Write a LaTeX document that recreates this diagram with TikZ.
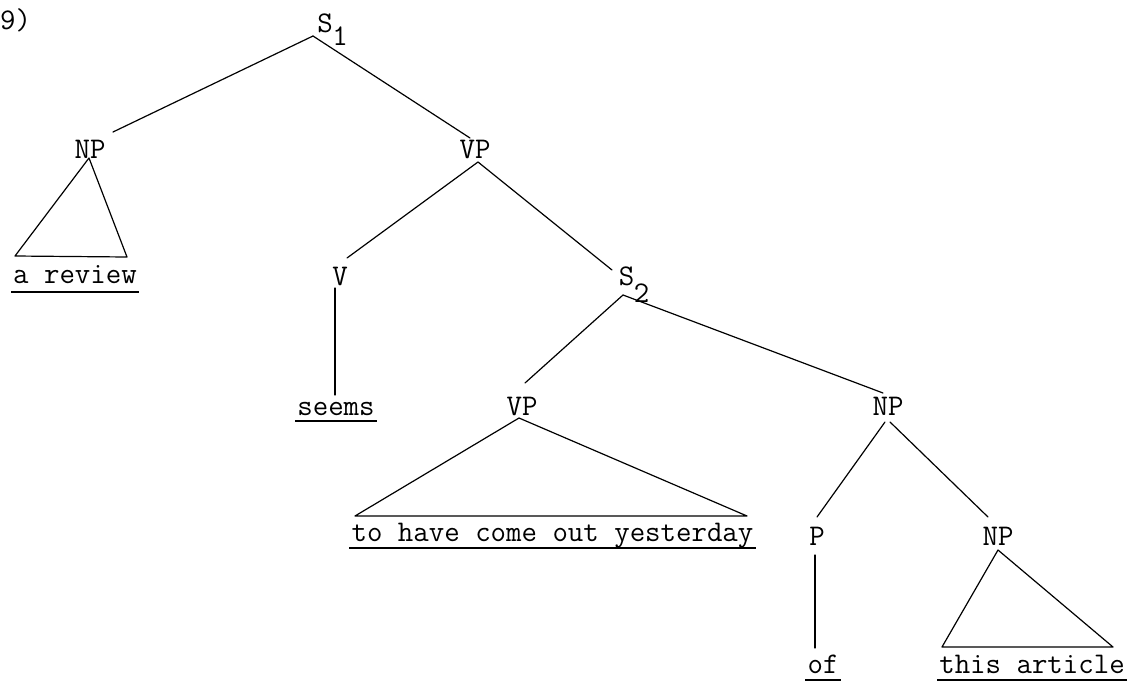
\documentclass[tikz,border=0pt]{standalone}
\usepackage{fontspec}
\begin{document}
\begin{tikzpicture}[x=1pt,y=-1pt,
  lbl/.style={inner sep=0pt,anchor=base,font=\ttfamily\fontsize{30}{34}\selectfont},
  edge/.style={line width=1.2pt,line cap=round,line join=round},
  uline/.style={line width=1.4pt}]
\useasboundingbox[fill=white] (0,0) rectangle (1141,683);
% labels
\node[lbl,anchor=base west] (num) at (0,29) {9)};
\node[lbl] (s1) at (325,32) {S};
\node[lbl] (s1sub) at (340,45) {1};
\node[lbl] (np1) at (90,158) {NP};
\node[lbl] (vp1) at (475,158) {VP};
\node[lbl] (v) at (340,285) {V};
\node[lbl] (s2) at (626.5,285) {S};
\node[lbl] (s2sub) at (641.5,302) {2};
\node[lbl] (vp2) at (522,415) {VP};
\node[lbl] (np3) at (888,415) {NP};
\node[lbl] (p) at (817,545) {P};
\node[lbl] (np4) at (998,545) {NP};
% words
\node[lbl] (w1) at (75,283) {a review};
\node[lbl] (w2) at (336,415) {seems};
\node[lbl] (w3) at (552.5,541) {to have come out yesterday};
\node[lbl] (w4) at (823,673) {of};
\node[lbl] (w5) at (1032,673) {this article};
% underlines
\draw[uline] ([yshift=-9pt,xshift=-2pt]w1.base west) -- ([yshift=-9pt,xshift=2pt]w1.base east);
\draw[uline] ([yshift=-6pt,xshift=-2pt]w2.base west) -- ([yshift=-6pt,xshift=2pt]w2.base east);
\draw[uline] ([yshift=-7pt,xshift=-2pt]w3.base west) -- ([yshift=-7pt,xshift=2pt]w3.base east);
\draw[uline] ([yshift=-7pt,xshift=-2pt]w4.base west) -- ([yshift=-7pt,xshift=2pt]w4.base east);
\draw[uline] ([yshift=-7pt,xshift=-2pt]w5.base west) -- ([yshift=-7pt,xshift=2pt]w5.base east);
% connector points
\coordinate (s1b) at (313,36);
\coordinate (np1t) at (113,132);
\coordinate (vp1t) at (470,138);
\coordinate (np1b) at (89,158);
\coordinate (np1l) at (15,256);
\coordinate (np1r) at (127,257);
\coordinate (vp1b) at (478,162);
\coordinate (vt) at (347,258);
\coordinate (s2t) at (612,270);
\coordinate (vb) at (335,288);
\coordinate (w2t) at (335,395);
\coordinate (s2b) at (623,295);
\coordinate (vp2t) at (525,383);
\coordinate (np3t) at (883,393);
\coordinate (vp2b) at (519,418);
\coordinate (vp2l) at (355,516);
\coordinate (vp2r) at (747,516);
\coordinate (np3bl) at (885,422);
\coordinate (np3br) at (890,422);
\coordinate (pt) at (817,517);
\coordinate (np4t) at (988,517);
\coordinate (pb) at (815,555);
\coordinate (w4t) at (815,648);
\coordinate (np4b) at (998,550);
\coordinate (np4l) at (942,647);
\coordinate (np4r) at (1113,647);
% edges
\draw[edge] (s1b) -- (np1t);
\draw[edge] (s1b) -- (vp1t);
\draw[edge] (np1b) -- (np1l) -- (np1r) -- cycle;
\draw[edge] (vp1b) -- (vt);
\draw[edge] (vp1b) -- (s2t);
\draw[edge] (vb) -- (w2t);
\draw[edge] (s2b) -- (vp2t);
\draw[edge] (s2b) -- (np3t);
\draw[edge] (vp2b) -- (vp2l) -- (vp2r) -- cycle;
\draw[edge] (np3bl) -- (pt);
\draw[edge] (np3br) -- (np4t);
\draw[edge] (pb) -- (w4t);
\draw[edge] (np4b) -- (np4l) -- (np4r) -- cycle;
\end{tikzpicture}
\end{document}
